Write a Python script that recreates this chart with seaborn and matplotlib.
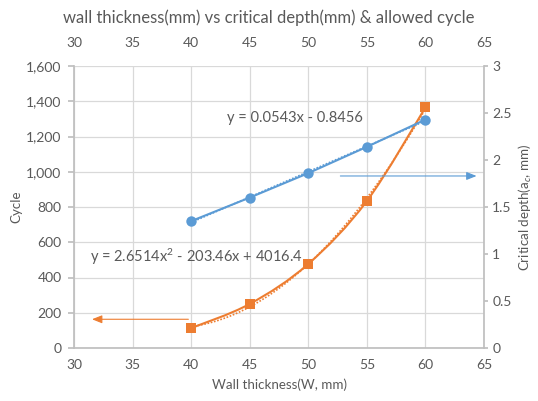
import matplotlib
matplotlib.use("Agg")
import matplotlib.pyplot as plt
from matplotlib.path import Path
from matplotlib.patches import PathPatch
import seaborn as sns
import numpy as np
import pandas as pd

# data
wall = [40, 45, 50, 55, 60]
cycle = [113, 250, 477, 834, 1365]
depth = [1.35, 1.60, 1.86, 2.14, 2.43]
x_ticks = [30, 35, 40, 45, 50, 55, 60, 65]
cycle_ticks = [0, 200, 400, 600, 800, 1000, 1200, 1400, 1600]
depth_ticks = [0, 0.5, 1, 1.5, 2, 2.5, 3]
eq_lin = "y = 0.0543x - 0.8456"
eq_poly = "y = 2.6514x$^{2}$ - 203.46x + 4016.4"

BLUE = "#5B9BD5"
ORANGE = "#ED7D31"
GRAY = "#595959"
GRID = "#D9D9D9"

sns.set_theme(style="white")
plt.rcParams['font.family'] = ['Lato', 'DejaVu Sans']
plt.rcParams['mathtext.fontset'] = 'custom'
plt.rcParams['mathtext.rm'] = 'Lato'
plt.rcParams['mathtext.it'] = 'Lato:italic'

df = pd.DataFrame({"wall": wall, "cycle": cycle, "depth": depth})

fig = plt.figure(figsize=(5.38, 4.01), dpi=100)
ax = fig.add_axes([74/538, 1-348/401, (484-74)/538, (348-66)/401])

ax.set_xlim(30, 65)
ax.set_ylim(0, 1600)
ax.set_xticks(x_ticks)
ax.set_yticks(cycle_ticks)
ax.set_yticklabels([f"{v:,}" for v in cycle_ticks])
ax.grid(True, color=GRID, linewidth=0.9)
ax.set_axisbelow(True)

ax2 = ax.twinx()
ax2.set_ylim(0, 3)
ax2.set_yticks(depth_ticks)
ax2.set_yticklabels([f"{v:g}" for v in depth_ticks])

ax3 = ax.twiny()
ax3.set_xlim(30, 65)
ax3.set_xticks(x_ticks)

# trendlines (dotted)
xs = np.linspace(40, 60, 100)
pc = np.polyfit(wall, cycle, 2)
pdp = np.polyfit(wall, depth, 1)
ax.plot(xs, np.polyval(pc, xs), color=ORANGE, linestyle=(0, (1, 1)), linewidth=1.2)
ax2.plot(xs, np.polyval(pdp, xs), color=BLUE, linestyle=(0, (1, 1)), linewidth=1.2)

# smoothed orange series line (Bezier through the data points)
P = np.column_stack([wall, cycle]).astype(float)
Pe = np.vstack([P[0], P, P[-1]])
verts = [tuple(P[0])]
codes = [Path.MOVETO]
for i in range(len(P) - 1):
    p0, p1, p2, p3 = Pe[i], Pe[i + 1], Pe[i + 2], Pe[i + 3]
    c1 = p1 + (p2 - p0) / 6
    c2 = p2 - (p3 - p1) / 6
    verts += [tuple(c1), tuple(c2), tuple(p2)]
    codes += [Path.CURVE4] * 3
ax.add_patch(PathPatch(Path(verts, codes), facecolor="none", edgecolor=ORANGE, linewidth=1.5))

sns.scatterplot(data=df, x="wall", y="cycle", ax=ax, color=ORANGE, marker="s",
                s=42, linewidth=0, zorder=5)
sns.lineplot(data=df, x="wall", y="depth", ax=ax2, color=BLUE, marker="o",
             markersize=7.5, markeredgewidth=0, linewidth=1.5)

# arrows pointing to axes
ax2.annotate("", xy=(64.6, 1.83), xytext=(52.5, 1.83),
             arrowprops=dict(arrowstyle="-|>,head_length=0.5,head_width=0.2", color=BLUE, lw=0.8))
ax.annotate("", xy=(31.3, 163), xytext=(40, 163),
            arrowprops=dict(arrowstyle="-|>,head_length=0.5,head_width=0.2", color=ORANGE, lw=0.8))

ax.text(0.372, 0.815, eq_lin, transform=ax.transAxes, fontsize=10.5, color=GRAY,
        ha="left", va="center")
ax.text(0.038, 0.322, eq_poly, transform=ax.transAxes, fontsize=10.5, color=GRAY,
        ha="left", va="center")

for a in (ax, ax2, ax3):
    for s in a.spines.values():
        s.set_visible(False)
    a.tick_params(labelsize=10, colors=GRAY, length=0, pad=6)

ax.spines['left'].set_visible(True)
ax.spines['left'].set_color("#BFBFBF")
ax.spines['bottom'].set_visible(True)
ax.spines['bottom'].set_color("#BFBFBF")
ax2.spines['right'].set_visible(True)
ax2.spines['right'].set_color("#BFBFBF")
ax.tick_params(axis='y', length=4, color="#BFBFBF", direction='out', pad=5)
ax.tick_params(axis='x', pad=8)
ax2.tick_params(axis='y', length=3, color="#BFBFBF", direction='out', pad=3)
ax3.tick_params(axis='x', pad=12)

ax.set_xlabel("Wall thickness(W, mm)", fontsize=9.6, color=GRAY, labelpad=5)
ax.set_ylabel("Cycle", fontsize=9.6, color=GRAY, labelpad=3)
ax2.set_ylabel(r"Critical depth(a$_{c}$, mm)", fontsize=9.6, color=GRAY, labelpad=4)
ax3.set_xlabel("")
ax.set_xlabel("Wall thickness(W, mm)")

for a in (ax, ax2, ax3):
    for lbl in a.get_xticklabels() + a.get_yticklabels():
        lbl.set_color(GRAY)
ax.xaxis.label.set_color(GRAY)
ax.xaxis.label.set_fontsize(9.6)
ax.yaxis.label.set_color(GRAY)

fig.text(0.5, 1-18/401, "wall thickness(mm) vs critical depth(mm) & allowed cycle",
         ha="center", va="center", fontsize=12, color=GRAY)

fig.savefig("out.png", dpi=100, facecolor="white")
